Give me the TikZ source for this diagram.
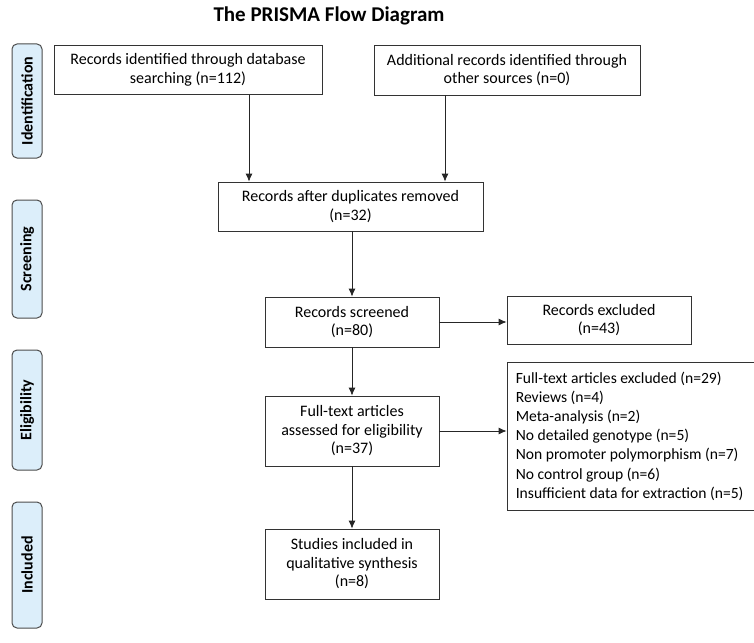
\documentclass[tikz,border=0pt]{standalone}
\usepackage{fontspec}
\usetikzlibrary{arrows.meta}
\setmainfont{Carlito}
\definecolor{tabfill}{HTML}{DCEEFA}
\begin{document}
\begin{tikzpicture}[x=1pt,y=-1pt,
  box/.style={draw=black!80,line width=0.8pt,fill=white,align=center,inner sep=0pt,font=\fontsize{16}{18.5}\selectfont},
  tab/.style={draw=black!70,line width=1pt,rounded corners=5pt,fill=tabfill,minimum width=30pt,inner sep=0pt},
  tablabel/.style={rotate=90,font=\bfseries\fontsize{16}{17}\selectfont},
  arr/.style={-{Latex[length=8pt,width=7pt]},line width=0.8pt,draw=black!85}]
\useasboundingbox (0,0) rectangle (754,642);
\node[font=\bfseries\fontsize{21}{24}\selectfont] (title) at (329,16) {The PRISMA Flow Diagram};
% side tabs
\node[tab,minimum height=114pt] (t1) at (27,101) {};
\node[tablabel] (t1l) at (t1.center) {Identification};
\node[tab,minimum height=118pt] (t2) at (27,259) {};
\node[tablabel] (t2l) at (t2.center) {Screening};
\node[tab,minimum height=120pt] (t3) at (27,410) {};
\node[tablabel] (t3l) at (t3.center) {Eligibility};
\node[tab,minimum height=126pt] (t4) at (27,565) {};
\node[tablabel] (t4l) at (t4.center) {Included};
% boxes
\node[box,minimum width=268pt,minimum height=49pt] (b1) at (188,70) {Records identified through database\\searching (n=112)};
\node[box,minimum width=266pt,minimum height=50pt] (b2) at (507,70) {Additional records identified through\\other sources (n=0)};
\node[box,minimum width=265pt,minimum height=49pt] (b3) at (350.5,206.5) {Records after duplicates removed\\(n=32)};
\node[box,minimum width=174pt,minimum height=50pt] (b4) at (352,322) {Records screened\\(n=80)};
\node[box,minimum width=184pt,minimum height=48pt] (b5) at (599,320) {Records excluded\\(n=43)};
\node[box,minimum width=174pt,minimum height=70pt] (b6) at (352,431) {Full-text articles\\assessed for eligibility\\(n=37)};
\node[box,minimum width=250pt,minimum height=148pt] (b7) at (632,436) {};
\node[anchor=west,align=left,inner sep=0pt,font=\fontsize{15.6}{19.2}\selectfont] (b7t) at ([xshift=9pt]b7.west) {Full-text articles excluded (n=29)\\Reviews (n=4)\\Meta-analysis (n=2)\\No detailed genotype (n=5)\\Non promoter polymorphism (n=7)\\No control group (n=6)\\Insufficient data for extraction (n=5)};
\node[box,minimum width=174pt,minimum height=70pt] (b8) at (352,564) {Studies included in\\qualitative synthesis\\(n=8)};
% arrows
\draw[arr] (b1.south -| 249,0) -- (b3.north -| 249,0);
\draw[arr] (b2.south -| 445,0) -- (b3.north -| 445,0);
\draw[arr] (b3.south -| b4.north) -- (b4.north);
\draw[arr] (b4.east) -- (b4.east -| b5.west);
\draw[arr] (b4.south) -- (b6.north);
\draw[arr] (b6.east) -- (b6.east -| b7.west);
\draw[arr] (b6.south) -- (b8.north);
\end{tikzpicture}
\end{document}
